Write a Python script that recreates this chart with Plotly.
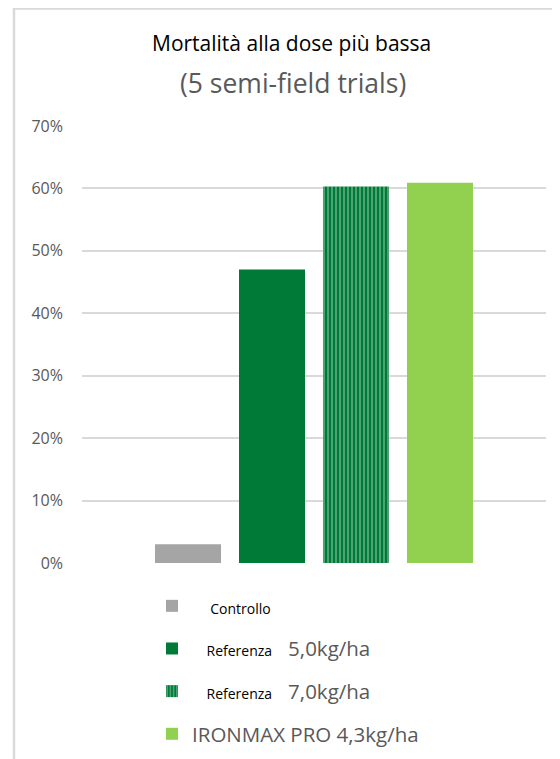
import plotly.graph_objects as go

category = ["Mortalità"]
series_names = ["Controllo", "Referenza 5,0kg/ha", "Referenza 7,0kg/ha", "IRONMAX PRO 4,3kg/ha"]
series_values = [0.03, 0.47, 0.603, 0.609]
colors = ["#A5A5A5", "#007A37", "#007A37", "#92D050"]

NB = "\u00a0"
legend_labels = [
    f"<span style='color:black;font-size:14px'>{NB*5}Controllo</span>",
    f"<span style='color:black;font-size:14px'>{NB*4}Referenza</span>{NB*3}5,0kg/ha",
    f"<span style='color:black;font-size:14px'>{NB*4}Referenza</span>{NB*3}7,0kg/ha",
    "IRONMAX PRO 4,3kg/ha",
]

# the page shows the figure with an 8px body offset; coordinates below are in screenshot pixels
OFF = 8
PL, PR, PT, PB = 82, 546, 126, 563  # plot area in screenshot pixels
W, H = 560 - OFF, 759 - OFF


def px(xs):
    return (xs - PL) / (PR - PL)


def py(ys):
    return (PB - ys) / (PB - PT)


fig = go.Figure()
for i, (name, val, col) in enumerate(zip(series_names, series_values, colors)):
    marker = dict(color=col, line=dict(width=0))
    if i == 2:
        marker["pattern"] = dict(shape="|", fgcolor="white", bgcolor=col, size=4, solidity=0.3)
    fig.add_trace(go.Bar(
        x=category, y=[val], name=legend_labels[i], marker=marker,
        legendgroup=str(i), hoverinfo="skip",
    ))

fig.update_layout(
    width=W, height=H,
    margin=dict(l=PL - OFF, r=W - (PR - OFF), t=PT - OFF, b=H - (PB - OFF), autoexpand=False),
    paper_bgcolor="white", plot_bgcolor="white",
    barmode="group", bargap=0.276, bargroupgap=0.214,
    font=dict(family="Open Sans", color="#595959"),
    showlegend=True,
    legend=dict(
        x=px(152), y=py(586), xanchor="left", yanchor="top",
        orientation="v", traceorder="grouped", tracegroupgap=13,
        font=dict(size=20.5, color="#595959"),
        bgcolor="rgba(0,0,0,0)",
    ),
    xaxis=dict(showticklabels=False, showgrid=False, zeroline=False, showline=False),
    yaxis=dict(
        range=[0, 0.7], dtick=0.1, tickformat=".0%",
        gridcolor="#D9D9D9", gridwidth=2, zeroline=False, showline=False,
        tickfont=dict(size=16, color="#595959"), ticklabelstandoff=18,
    ),
    annotations=[
        dict(text="Mortalità alla dose più bassa", xref="paper", yref="paper",
             x=px(291), y=py(43), showarrow=False,
             font=dict(size=21, color="black"), xanchor="center", yanchor="middle"),
        dict(text="(5 semi-field trials)", xref="paper", yref="paper",
             x=px(293), y=py(83), showarrow=False,
             font=dict(size=26.5, color="#595959"), xanchor="center", yanchor="middle"),
    ],
    shapes=[
        dict(type="rect", xref="paper", yref="paper",
             x0=px(14), x1=px(640), y0=py(820), y1=py(8.5),
             line=dict(color="#D9D9D9", width=2.5), fillcolor="rgba(0,0,0,0)", layer="below"),
    ],
)

fig.write_html("out.html")
